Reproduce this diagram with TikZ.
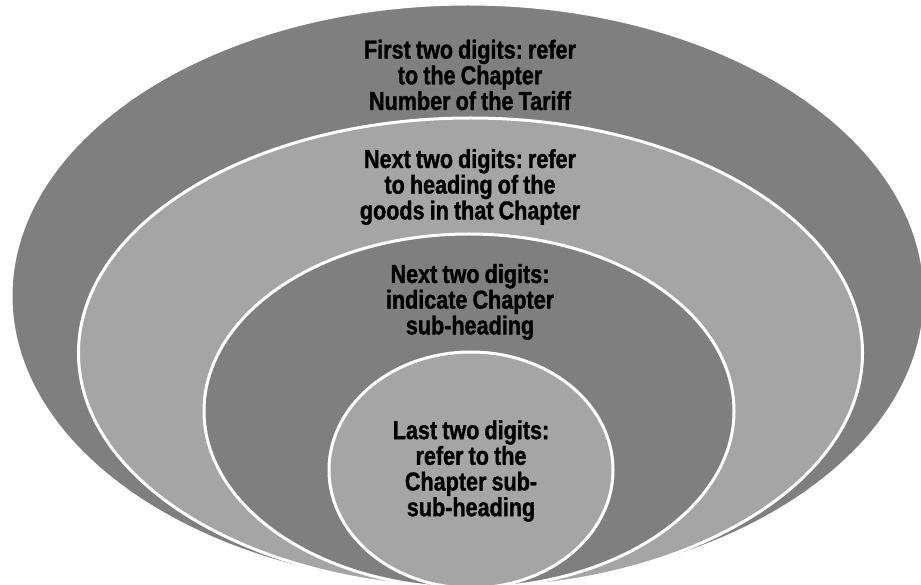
\documentclass[tikz,border=0pt]{standalone}
\usepackage{fontspec}
\setmainfont{Liberation Sans}[FakeStretch=0.83, WordSpace=0.85, BoldFeatures={FakeBold=1.2}]
\usetikzlibrary{shapes.geometric}
\definecolor{ringdark}{HTML}{7F7F7F}
\definecolor{ringlight}{HTML}{A5A5A5}
\frenchspacing

\begin{document}
\begin{tikzpicture}[x=1pt, y=1pt, font=\fontsize{26}{25.7}\selectfont\bfseries,
  ring/.style={ellipse, draw=white, line width=3pt, inner sep=0pt},
  ringtext/.style={align=center, text=black, inner sep=0pt}]
  \useasboundingbox (0,0) rectangle (921,584);
  % nested rings, all resting on the same bottom point
  \node[ring, fill=ringdark, minimum width=914pt, minimum height=584pt] (chapter) at (468,288) {};
  \node[ring, fill=ringlight, minimum width=784pt, minimum height=470pt] (heading) at (470.5,231) {};
  \node[ring, fill=ringdark, minimum width=530pt, minimum height=354pt] (subheading) at (469,173) {};
  \node[ring, fill=ringlight, minimum width=284pt, minimum height=236pt] (subsub) at (471,114) {};
  % texts
  \node[ringtext] (chaptertext) at (470,509) {First two digits: refer\\to the Chapter\\Number of the Tariff};
  \node[ringtext] (headingtext) at (470,397) {Next two digits: refer\\to heading of the\\goods in that Chapter};
  \node[ringtext] (subheadingtext) at (470,282) {Next two digits:\\indicate Chapter\\sub-heading};
  \node[ringtext] (subsubtext) at (471,113) {Last two digits:\\refer to the\\Chapter sub-\\sub-heading};
\end{tikzpicture}
\end{document}
